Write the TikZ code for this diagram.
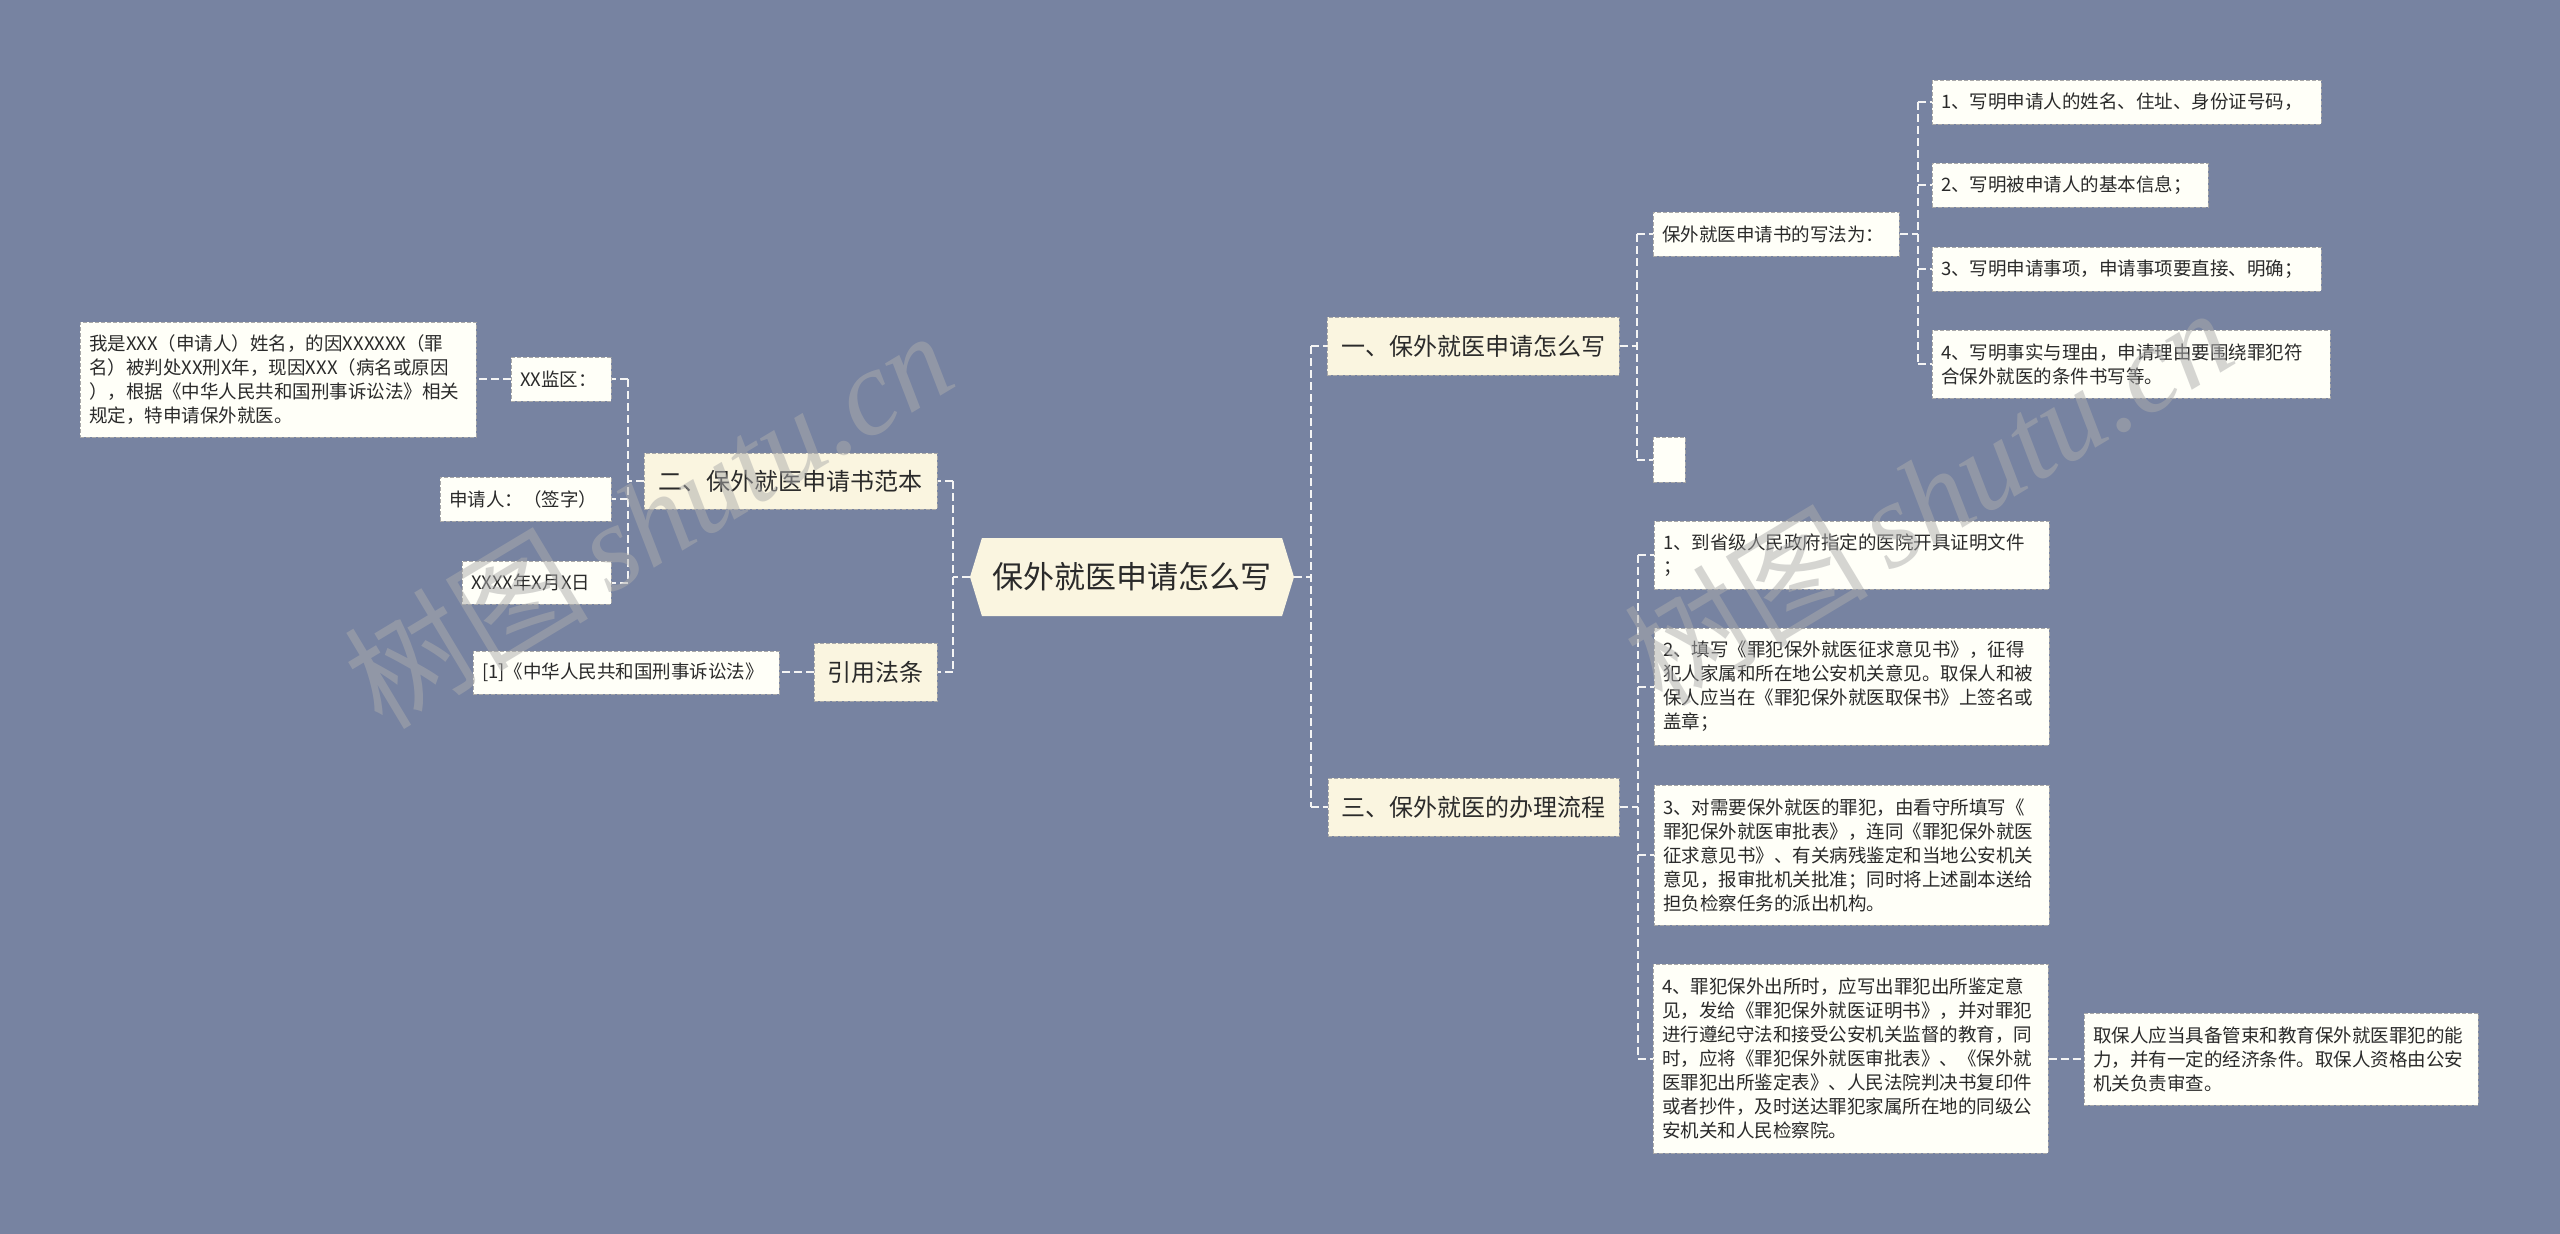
\documentclass[tikz,border=0pt]{standalone}
\usepackage{fontspec}
\usetikzlibrary{shapes.symbols,calc}
\newfontfamily\cjk{Noto Sans CJK SC}
\newfontfamily\wmserif{Liberation Serif}
\definecolor{bgc}{HTML}{7783A1}
\definecolor{creamc}{HTML}{FAF5E0}
\definecolor{leafc}{HTML}{FFFFF8}
\definecolor{bordc}{HTML}{A8A8A8}
\definecolor{txtc}{HTML}{2A2A2A}
\definecolor{linec}{HTML}{F4F4F4}
\tikzset{
  x=1pt,y=-1pt,
  box/.style={draw=bordc, line width=1pt, dash pattern=on 4pt off 2pt, text=txtc, inner ysep=0pt, anchor=center},
  leaf/.style={box, fill=leafc, inner xsep=9pt, align=left, font=\cjk\fontsize{18.5}{24}\selectfont},
  topic/.style={box, fill=creamc, inner xsep=0pt, align=center, font=\cjk\fontsize{24}{28}\selectfont},
  conn/.style={draw=linec, line width=2pt, dash pattern=on 8pt off 4pt},
  wm/.style={text=gray!65, opacity=0.5, rotate=31, font=\fontsize{122}{122}\selectfont}
}
\begin{document}
\begin{tikzpicture}
\fill[bgc] (0,0) rectangle (2560,1234);
\useasboundingbox (0,0) rectangle (2560,1234);

% root
\node[signal, signal to=west and east, signal pointer angle=146, fill=creamc, text=txtc,
      minimum width=324pt, minimum height=78pt, inner sep=0pt,
      font=\cjk\fontsize{31}{36}\selectfont] (root) at (1132,577) {保外就医申请怎么写};

% level 1
\node[topic, minimum width=292pt, minimum height=58pt] (t1) at (1473,346) {一、保外就医申请怎么写};
\node[topic, minimum width=291pt, minimum height=58pt] (t3) at (1473.5,807) {三、保外就医的办理流程};
\node[topic, minimum width=293pt, minimum height=56pt] (t2) at (790.5,481) {二、保外就医申请书范本};
\node[topic, minimum width=123pt, minimum height=58pt] (t4) at (875.5,672) {引用法条};

% branch 1 leaves
\node[leaf, text width=228pt, minimum height=44pt] (a0) at (1776,234) {保外就医申请书的写法为：};
\node[leaf, inner xsep=0pt, minimum width=32pt, minimum height=45pt] (a0e) at (1669,459.5) {};
\node[leaf, text width=371pt, minimum height=44pt] (a1) at (2126.5,102) {1、写明申请人的姓名、住址、身份证号码，};
\node[leaf, text width=258pt, minimum height=44pt] (a2) at (2070,185) {2、写明被申请人的基本信息；};
\node[leaf, text width=371pt, minimum height=44pt] (a3) at (2126.5,269) {3、写明申请事项，申请事项要直接、明确；};
\node[leaf, text width=380pt, minimum height=68pt] (a4) at (2131,364) {4、写明事实与理由，申请理由要围绕罪犯符\\合保外就医的条件书写等。};

% branch 3 leaves
\node[leaf, text width=377pt, minimum height=68pt] (c1) at (1851.5,555) {1、到省级人民政府指定的医院开具证明文件\\；};
\node[leaf, text width=377pt, minimum height=117pt] (c2) at (1851.5,686.5) {2、填写《罪犯保外就医征求意见书》，征得\\犯人家属和所在地公安机关意见。取保人和被\\保人应当在《罪犯保外就医取保书》上签名或\\盖章；};
\node[leaf, text width=377pt, minimum height=140pt] (c3) at (1851.5,855) {3、对需要保外就医的罪犯，由看守所填写《\\罪犯保外就医审批表》，连同《罪犯保外就医\\征求意见书》、有关病残鉴定和当地公安机关\\意见，报审批机关批准；同时将上述副本送给\\担负检察任务的派出机构。};
\node[leaf, text width=377pt, minimum height=189pt] (c4) at (1850.5,1058.5) {4、罪犯保外出所时，应写出罪犯出所鉴定意\\见，发给《罪犯保外就医证明书》，并对罪犯\\进行遵纪守法和接受公安机关监督的教育，同\\时，应将《罪犯保外就医审批表》、《保外就\\医罪犯出所鉴定表》、人民法院判决书复印件\\或者抄件，及时送达罪犯家属所在地的同级公\\安机关和人民检察院。};
\node[leaf, text width=376pt, minimum height=92pt] (c5) at (2281,1059) {取保人应当具备管束和教育保外就医罪犯的能\\力，并有一定的经济条件。取保人资格由公安\\机关负责审查。};

% branch 2 leaves
\node[leaf, text width=378pt, minimum height=115pt] (b0) at (278,379.5) {我是XXX（申请人）姓名，的因XXXXXX（罪\\名）被判处XX刑X年，现因XXX（病名或原因\\），根据《中华人民共和国刑事诉讼法》相关\\规定，特申请保外就医。};
\node[leaf, text width=82pt, minimum height=44pt] (b1) at (561,379) {XX监区：};
\node[leaf, text width=153pt, minimum height=44pt] (b2) at (525.5,499) {申请人：（签字）};
\node[leaf, text width=131pt, minimum height=43pt] (b3) at (536.5,582.5) {XXXX年X月X日};
\node[leaf, text width=288pt, minimum height=43pt] (d1) at (626,672.5) {[1]《中华人民共和国刑事诉讼法》};

% connectors: right of root
\draw[conn] (root.east) -- ++(17,0) coordinate (sR);
\draw[conn] (sR |- t1.west) -- (sR |- t3.west);
\draw[conn] (sR |- t1.west) -- (t1.west);
\draw[conn] (sR |- t3.west) -- (t3.west);
% left of root
\draw[conn] (root.west) -- ++(-17,0) coordinate (sL);
\draw[conn] (sL |- t2.east) -- (sL |- t4.east);
\draw[conn] (sL |- t2.east) -- (t2.east);
\draw[conn] (sL |- t4.east) -- (t4.east);
% t1 children
\draw[conn] (t1.east) -- ++(17,0) coordinate (s1);
\draw[conn] (s1 |- a0.west) -- (s1 |- a0e.west);
\draw[conn] (s1 |- a0.west) -- (a0.west);
\draw[conn] (s1 |- a0e.west) -- (a0e.west);
% a0 children
\draw[conn] (a0.east) -- ++(18,0) coordinate (s0);
\draw[conn] (s0 |- a1.west) -- (s0 |- a4.west);
\foreach \n in {a1,a2,a3,a4} \draw[conn] (s0 |- \n.west) -- (\n.west);
% t3 children
\draw[conn] (t3.east) -- ++(18,0) coordinate (s3);
\draw[conn] (s3 |- c1.west) -- (s3 |- c4.west);
\foreach \n in {c1,c2,c3,c4} \draw[conn] (s3 |- \n.west) -- (\n.west);
\draw[conn] (c4.east) -- (c5.west |- c4.east);
% t2 children
\draw[conn] (t2.west) -- ++(-16,0) coordinate (s2);
\draw[conn] (s2 |- b1.east) -- (s2 |- b3.east);
\foreach \n in {b1,b2,b3} \draw[conn] (s2 |- \n.east) -- (\n.east);
\draw[conn] (b1.west) -- (b0.east |- b1.west);
% t4 child
\draw[conn] (t4.west) -- (d1.east |- t4.west);

% watermarks
\node[wm] (wm1) at (648,518) {{\cjk 树图}\,{\wmserif\itshape shutu.cn}};
\node[wm] (wm2) at (1928,495) {{\cjk 树图}\,{\wmserif\itshape shutu.cn}};
\end{tikzpicture}
\end{document}
